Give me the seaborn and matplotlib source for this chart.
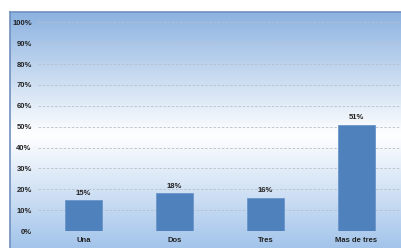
import numpy as np
import pandas as pd
import seaborn as sns
import matplotlib.pyplot as plt
from matplotlib.colors import LinearSegmentedColormap

categorias = ["Una", "Dos", "Tres", "Mas de tres"]
valores = [15, 18, 16, 51]
etiquetas = ["15%", "18%", "16%", "51%"]
ticks_y = [0, 10, 20, 30, 40, 50, 60, 70, 80, 90, 100]

df = pd.DataFrame({"cat": categorias, "val": valores})

sns.set_style("white")
plt.rcParams["font.family"] = ["Liberation Sans Narrow", "Liberation Sans", "DejaVu Sans"]

fig = plt.figure(figsize=(4.01, 2.48), dpi=100)

# fondo con degradado
bg = fig.add_axes([10 / 401, 0, 1 - 10 / 401, (248 - 12) / 248])
cmap = LinearSegmentedColormap.from_list(
    "bg", [(0.0, (0.55, 0.70, 0.88)), (0.52, (1, 1, 1)), (1.0, (0.64, 0.77, 0.92))])
grad = np.linspace(0, 1, 256).reshape(-1, 1)
bg.imshow(grad, aspect="auto", cmap=cmap, extent=[0, 1, 0, 1], origin="upper")
bg.set_xticks([])
bg.set_yticks([])
for s in ["top", "left"]:
    bg.spines[s].set_color("#6f8fbf")
    bg.spines[s].set_linewidth(1.2)
for s in ["right", "bottom"]:
    bg.spines[s].set_visible(False)

ax = fig.add_axes([38 / 401, 17 / 248, 364 / 401, 210 / 248])
ax.patch.set_alpha(0)
sns.barplot(data=df, x="cat", y="val", color="#4f81bd", width=0.4,
            saturation=1, edgecolor="#6a96cc", linewidth=0.6, ax=ax, zorder=3)

ax.set_ylim(0, 100.6)
ax.set_yticks(ticks_y)
ax.set_yticklabels([f"{t}%" for t in ticks_y])
ax.set_xlim(-0.5, 3.5)
for t in ticks_y:
    ax.axhline(t, color="#b8c0cc", lw=0.6, ls=(0, (3, 2)), zorder=1)

for i, (v, e) in enumerate(zip(valores, etiquetas)):
    ax.text(i, v + 1.5, e, ha="center", va="bottom", fontsize=5.5,
            fontweight="bold", color="#222222")

ax.tick_params(axis="both", length=0, labelsize=5.5, colors="#222222")
ax.tick_params(axis="y", pad=4.5)
ax.tick_params(axis="x", pad=4)
for lbl in ax.get_xticklabels() + ax.get_yticklabels():
    lbl.set_fontweight("bold")
ax.set_xlabel("")
ax.set_ylabel("")
for s in ax.spines.values():
    s.set_visible(False)

fig.savefig("out.png", dpi=100)
